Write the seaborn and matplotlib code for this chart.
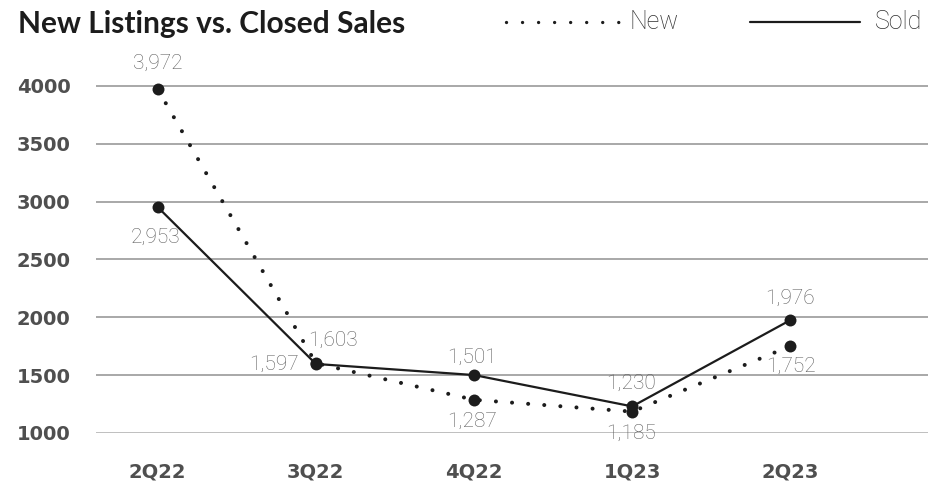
import matplotlib
matplotlib.use("Agg")
import matplotlib.pyplot as plt
from matplotlib.lines import Line2D
import seaborn as sns
import pandas as pd

quarters = ["2Q22", "3Q22", "4Q22", "1Q23", "2Q23"]
new_listings = [3972, 1603, 1287, 1185, 1752]
closed_sales = [2953, 1597, 1501, 1230, 1976]
y_ticks = [1000, 1500, 2000, 2500, 3000, 3500, 4000]

# label offsets in pixels (dx, dy) and horizontal alignment per point
new_label_pos = [(0, 26, "center"), (17, 23, "center"), (-2, -22, "center"),
                 (-1, -22, "center"), (1, -20, "center")]
sold_label_pos = [(-2, -30, "center"), (-17, 0, "right"), (-2, 18, "center"),
                  (-1, 23, "center"), (0, 22, "center")]

sns.set_theme(style="white")
plt.rcParams["font.family"] = ["Lato", "DejaVu Sans"]

ink = "#1c1c1c"
dot_style = (0, (0.01, 4.0))
W, H = 953, 484

df = pd.DataFrame({
    "quarter": quarters * 2,
    "pos": list(range(len(quarters))) * 2,
    "value": new_listings + closed_sales,
    "series": ["New"] * len(quarters) + ["Sold"] * len(quarters),
})

fig = plt.figure(figsize=(W / 100, H / 100), dpi=100)
ax = fig.add_axes([96 / W, 1 - 433 / H, (928 - 96) / W, (433 - 74.4) / H])

sns.lineplot(data=df[df.series == "New"], x="pos", y="value", ax=ax,
             color=ink, linewidth=2.9, linestyle=dot_style,
             dash_capstyle="round", marker="o", markersize=8.6,
             markeredgewidth=0, legend=False, clip_on=False, zorder=3)
sns.lineplot(data=df[df.series == "Sold"], x="pos", y="value", ax=ax,
             color=ink, linewidth=1.6, marker="o", markersize=8.6,
             markeredgewidth=0, legend=False, clip_on=False, zorder=3)

ax.set_xlim(-0.39, 4.87)
ax.set_ylim(1000, 4100)
ax.set_yticks(y_ticks)
ax.set_yticklabels([str(t) for t in y_ticks])
ax.set_xticks(range(len(quarters)))
ax.set_xticklabels(quarters)
ax.grid(axis="y", color="#9a9a9a", linewidth=1.2)
ax.grid(axis="x", visible=False)
ax.yaxis.get_gridlines()[0].set_color("#bfbfbf")
ax.yaxis.get_gridlines()[0].set_linewidth(1.4)
for s in ax.spines.values():
    s.set_visible(False)
ax.set_xlabel("")
ax.set_ylabel("")

tick_font = {"family": ["DejaVu Sans"], "weight": "bold", "size": 14}
ax.tick_params(axis="y", length=0, pad=57, labelcolor="#4f4f4f")
ax.tick_params(axis="x", length=0, pad=21, labelcolor="#4f4f4f")
for lab in ax.get_yticklabels():
    lab.set_ha("left")
    lab.set_fontproperties(tick_font)
for lab in ax.get_xticklabels():
    lab.set_fontproperties(tick_font)

px = 72 / 100
label_kw = dict(textcoords="offset points", va="center", fontsize=15,
                color="#5e5e5e", family=["Roboto", "DejaVu Sans"], fontweight="light")
for i, v in enumerate(new_listings):
    dx, dy, ha = new_label_pos[i]
    ax.annotate(f"{v:,}", (i, v), xytext=(dx * px, dy * px), ha=ha, **label_kw)
for i, v in enumerate(closed_sales):
    dx, dy, ha = sold_label_pos[i]
    ax.annotate(f"{v:,}", (i, v), xytext=(dx * px, dy * px), ha=ha, **label_kw)

fig.text(18 / W, 1 - 24 / H, "New Listings vs. Closed Sales", ha="left", va="center",
         fontsize=21.5, fontweight="bold", color="#1c1c1c")

# legend drawn in figure pixels
leg_y = 1 - 22 / H
fig.add_artist(Line2D([506 / W, 622 / W], [leg_y, leg_y], transform=fig.transFigure,
                      color=ink, linewidth=2.4, linestyle=(0, (0.01, 4.8)),
                      dash_capstyle="round"))
fig.add_artist(Line2D([750 / W, 860 / W], [leg_y, leg_y], transform=fig.transFigure,
                      color=ink, linewidth=1.6))
leg_kw = dict(va="center", ha="left", fontsize=18, color="#2e2e2e",
              family=["Roboto", "DejaVu Sans"], fontweight="light")
fig.text(630 / W, leg_y, "New", **leg_kw)
fig.text(875 / W, leg_y, "Sold", **leg_kw)

fig.savefig("out.png", dpi=100)
